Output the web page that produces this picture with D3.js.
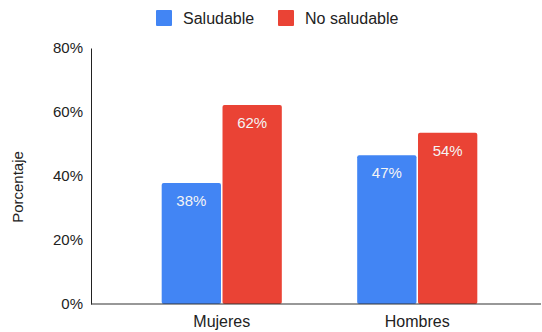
<!DOCTYPE html>
<html>
<head>
<meta charset="utf-8">
<script src="https://cdn.jsdelivr.net/npm/d3@7"></script>
<style>
  body { margin: 0; background: #fff; }
  svg { display: block; font-family: "Liberation Sans", Arial, sans-serif; }
</style>
</head>
<body>
<div class="chart"></div>
<script>
const categories = ["Mujeres", "Hombres"];
const seriesNames = ["Saludable", "No saludable"];
const saludable = [37.8, 46.5];
const noSaludable = [62.2, 53.5];
const yTicks = [0, 20, 40, 60, 80];
const colors = ["#4285f4", "#ea4335"];

const width = 542, height = 332;

const svg = d3.select(".chart")
    .append("svg")
    .attr("width", width)
    .attr("height", height);

const x0 = d3.scaleBand()
    .domain(categories)
    .range([124, 515])
    .paddingInner(0.37)
    .paddingOuter(0.185);

const x1 = d3.scaleBand()
    .domain(seriesNames)
    .range([0, x0.bandwidth()])
    .padding(0.025);

const y = d3.scaleLinear()
    .domain([0, 80])
    .range([304, 48]);

const color = d3.scaleOrdinal().domain(seriesNames).range(colors);

const rows = categories.map((c, i) => ({
    cat: c,
    vals: [
        { key: seriesNames[0], value: saludable[i] },
        { key: seriesNames[1], value: noSaludable[i] }
    ]
}));

// bars
const groups = svg.selectAll(".grp")
    .data(rows)
    .enter().append("g")
    .attr("class", "grp")
    .attr("transform", d => `translate(${x0(d.cat)},0)`);

groups.selectAll("rect")
    .data(d => d.vals)
    .enter().append("rect")
    .attr("x", d => x1(d.key))
    .attr("y", d => y(d.value))
    .attr("width", x1.bandwidth())
    .attr("height", d => y(0) - y(d.value))
    .attr("rx", 2)
    .attr("fill", d => color(d.key));

groups.selectAll("text")
    .data(d => d.vals)
    .enter().append("text")
    .attr("x", d => x1(d.key) + x1.bandwidth() / 2)
    .attr("y", d => y(d.value) + 23)
    .attr("text-anchor", "middle")
    .attr("font-size", 15)
    .attr("fill", "#f4f4f4")
    .text(d => Math.round(d.value) + "%");

// y axis
const yAxis = svg.append("g")
    .attr("transform", "translate(91,0)")
    .call(d3.axisLeft(y).tickValues(yTicks).tickSize(0).tickPadding(8).tickFormat(d => d + "%"));
yAxis.select(".domain").attr("stroke", "#222").attr("stroke-width", 1);
yAxis.selectAll("text").attr("font-size", 15).attr("fill", "#222").attr("font-family", "Liberation Sans, Arial, sans-serif");

// x axis
const xAxis = svg.append("g")
    .attr("transform", "translate(0,304)")
    .call(d3.axisBottom(x0).tickSize(0).tickPadding(12));
xAxis.select(".domain").remove();
xAxis.selectAll("text").attr("font-size", 16).attr("fill", "#222").attr("font-family", "Liberation Sans, Arial, sans-serif");

svg.append("line")
    .attr("x1", 91).attr("x2", 541)
    .attr("y1", y(0)).attr("y2", y(0))
    .attr("stroke", "#333").attr("stroke-width", 1.2);

// y title
svg.append("text")
    .attr("transform", "translate(23,187) rotate(-90)")
    .attr("text-anchor", "middle")
    .attr("font-size", 15)
    .attr("fill", "#222")
    .text("Porcentaje");

// legend
const legendX = [156, 278];
const legend = svg.selectAll(".leg")
    .data(seriesNames)
    .enter().append("g")
    .attr("class", "leg")
    .attr("transform", (d, i) => `translate(${legendX[i]},10)`);

legend.append("rect")
    .attr("width", 16).attr("height", 16)
    .attr("rx", 1)
    .attr("fill", d => color(d));

legend.append("text")
    .attr("x", 27).attr("y", 14)
    .attr("font-size", 16)
    .attr("fill", "#222")
    .text(d => d);
</script>
</body>
</html>
